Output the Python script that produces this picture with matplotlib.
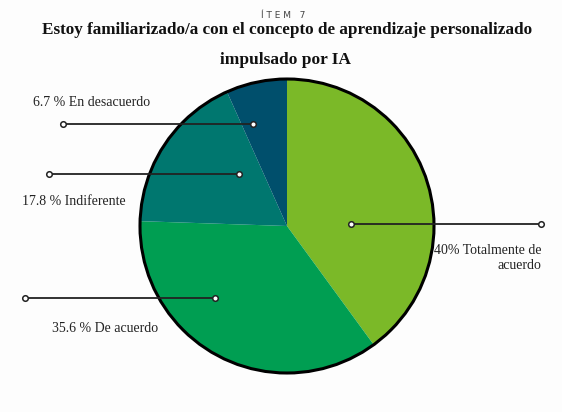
import matplotlib.pyplot as plt

# datos del item 7
categorias = ["Totalmente de\nacuerdo", "De acuerdo", "Indiferente", "En desacuerdo"]
porcentajes = [40, 35.6, 17.8, 6.7]
etiquetas = ["40% Totalmente de\nacuerdo", "35.6 % De acuerdo", "17.8 % Indiferente", "6.7 % En desacuerdo"]
colores = ["#7bb928", "#009e52", "#00776f", "#004f6c"]

W, H = 562, 412
fig = plt.figure(figsize=(W / 100, H / 100), dpi=100)
fig.patch.set_facecolor("#fdfdfd")
ax = fig.add_axes([0, 0, 1, 1])

cx, cy, r = 287, 226, 147
# el eje y esta invertido, asi que counterclock=True recorre en sentido horario en pantalla
ax.pie(porcentajes, colors=colores, startangle=-90, counterclock=True,
       center=(cx, cy), radius=r, frame=True,
       wedgeprops=dict(linewidth=0))
ax.add_patch(plt.Circle((cx, cy), r, fill=False, ec="black", lw=2.2, zorder=3))
ax.set_xlim(0, W)
ax.set_ylim(H, 0)
ax.axis("off")

fuente = "Liberation Serif"
# lineas guia: (x inicio, x fin, y) y posicion del texto
guias = [
    (351, 541, 224, 541, 258, "right"),
    (25, 215, 298, 105, 328, "center"),
    (49, 239, 174, 74, 201, "center"),
    (63, 253, 124, 92, 102, "center"),
]
for (x0, x1, y, tx, ty, ha), txt in zip(guias, etiquetas):
    ax.plot([x0, x1], [y, y], color="#222222", lw=1.3, zorder=4)
    ax.plot([x0, x1], [y, y], "o", ms=4, mfc="white", mec="#222222", mew=1.1, zorder=5)
    ax.text(tx, ty, txt, ha=ha, va="center", fontsize=10, family=fuente,
            color="#222222", linespacing=1.25, zorder=5)

ax.text(283, 15, "Í T E M   7", ha="center", va="center", fontsize=6.5,
        family="DejaVu Sans", color="#444444")
ax.text(287, 30, "Estoy familiarizado/a con el concepto de aprendizaje personalizado",
        ha="center", va="center", fontsize=12.3, family=fuente, weight="bold",
        color="#111111")
ax.text(285, 60, "impulsado por IA", ha="center", va="center", fontsize=12.5,
        family=fuente, weight="bold", color="#111111")

fig.savefig("out.png", dpi=100, facecolor=fig.get_facecolor())
